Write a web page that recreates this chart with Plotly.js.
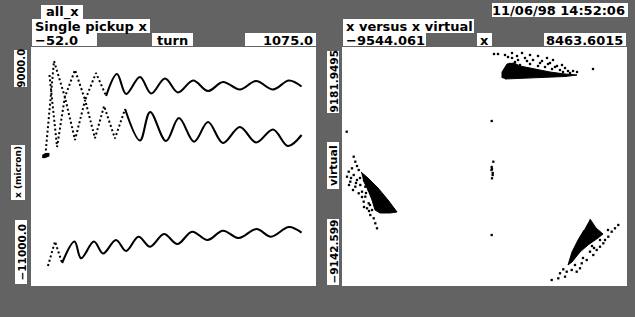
<!DOCTYPE html>
<html><head><meta charset="utf-8">
<script src="https://cdn.plot.ly/plotly-3.0.1.min.js"></script>
<style>html,body{margin:0;padding:0;background:#636363;overflow:hidden;}</style>
</head><body><div id="chart" style="width:635px;height:317px;"></div>
<script>
// ---------- Left panel: Single pickup x (turn vs x in micron) ----------
const turnRange = [-52.0, 1075.0];
const xMicronRange = [-11000.0, 9000.0];
const upperTurn = [5, 39, 82, 122, 162, 205, 245, 288, 324, 379, 423, 478, 529, 589, 648, 707, 774, 838, 905, 968, 1018];
const upperX    = [-37, 7828, 4816, 7075, 4565, 6824, 4900, 6741, 5067, 6490, 5109, 6364, 5193, 6197, 5318, 6071, 5444, 6155, 5444, 6197, 5695];
const middleTurn = [21, 51, 82, 122, 162, 201, 237, 280, 320, 379, 419, 482, 533, 593, 648, 707, 774, 838, 905, 964, 1018];
const middleX    = [6657, 632, 4816, 1218, 4565, 1360, 4063, 1343, 3812, 1176, 3561, 1134, 3059, 1075, 2724, 967, 2306, 1008, 2096, 716, 1636];
const lowerTurn = [15, 43, 71, 120, 146, 197, 233, 284, 324, 373, 419, 474, 527, 585, 646, 707, 770, 840, 897, 968, 1018];
const lowerX    = [-9326, -7276, -9075, -7276, -8682, -7276, -8280, -7150, -8071, -6874, -7711, -6649, -7485, -6456, -7150, -6372, -6983, -6230, -6874, -6063, -6540];
const blobTurn = [-1, 3, 7, 11, 14];
const blobX    = [-150, -110, -80, -40, -10];

// ---------- Right panel: x versus x virtual ----------
const xRange = [-9544.061, 8463.6015];
const virtualRange = [-9142.599, 9181.9495];
const topCoreX = [566, 566, 882, 1324, 1703, 2651, 3599, 4547, 5304, 4547, 3283, 2019, 755];
const topCoreY = [6805, 7265, 7879, 7955, 7725, 7495, 7265, 7112, 7035, 6920, 6844, 6767, 6729];
const topDotsX = [60, 313, 755, 1198, 1514, 1830, 2019, 2335, 2525, 2841, 3093, 3409, 3599, 3788, 4041, 4357, 4547, 4736, 5052, 5305, 6316, 2335, 2841, 3283, 3725, 4230, 1577, 2146, 2967, 3472, 3915, 4420, 4862, 1198, 945, 1387, 1071, 1703];
const topDotsY = [8645, 8645, 8569, 8722, 8492, 8722, 8339, 8569, 8185, 8492, 8109, 8339, 7955, 8185, 7725, 7802, 7572, 7342, 7342, 7265, 7495, 7879, 7725, 7649, 7495, 7419, 8185, 8109, 7955, 7879, 7649, 7265, 7188, 8339, 8415, 8032, 7879, 7802];
const leftCoreX = [-8343, -7901, -7269, -6637, -6069, -6511, -7143, -7459, -7649, -7901, -8217];
const leftCoreY = [-402, -862, -1628, -2549, -3469, -3545, -3545, -3315, -2549, -1782, -1015];
const leftDotsX = [-8805, -8704, -8596, -8912, -8489, -9121, -9228, -8805, -8596, -9020, -8704, -8388, -8280, -8489, -8072, -8173, -7857, -7964, -7648, -7756, -7541, -7440, -7333, -7857, -8072, -9102, -8407, -8659, -8280, -8028, -7775, -8154, -7838, -8849, -8975];
const leftDotsY = [771, 388, 58, -118, -248, -379, -762, -632, -1015, -1145, -1529, -1398, -1912, -2035, -2295, -2679, -2802, -3185, -3315, -3699, -3952, -4335, -4718, -1782, -1529, -1398, -862, -1245, -2319, -2012, -2932, -3085, -3392, -1782, -862];
const rightCoreX = [6126, 6505, 6947, 6631, 5999, 5494, 4989, 4736, 4989, 5368, 5747];
const rightCoreY = [-4005, -4695, -5155, -5462, -5999, -6535, -7302, -7532, -6535, -5615, -4849];
const rightDotsX = [7914, 7705, 7497, 7282, 7074, 6966, 7263, 6758, 6549, 6334, 6126, 5918, 5602, 5494, 5286, 4970, 4654, 4439, 4230, 4547, 4123, 3706, 6379, 6758, 5684, 5178, 6252];
const rightDotsY = [-4465, -4718, -4979, -5362, -5615, -5868, -4849, -6129, -6382, -6765, -6512, -7149, -7402, -7785, -8046, -7915, -8046, -7862, -8168, -8429, -8552, -8682, -6229, -5615, -6996, -7532, -6075];
const strayX = [-9247, -85, 16, -85, -67, -98, -23, -23, -67, -85];
const strayY = [2688, 3508, 388, -18, -172, -248, -478, -632, -885, -5232];

// ---------- Labels ----------
const labelLeft = {title1: "all_x", title2: "Single pickup x", xmin: "\u221252.0", xname: "turn", xmax: "1075.0", ymax: "9000.0", yname: "x (micron)", ymin: "\u221211000.0"};
const labelRight = {stamp: "11/06/98 14:52:06", title2: "x versus x virtual", xmin: "\u22129544.061", xname: "x", xmax: "8463.6015", ymax: "9181.9495", yname: "virtual", ymin: "\u22129142.599"};

const W = 635, H = 317;
const fx = v => v / W, fy = v => 1 - v / H;
const K = '#000000';

function lineTrace(x, y, opts) {
  return Object.assign({x, y, type: 'scatter', mode: 'lines', hoverinfo: 'skip', showlegend: false,
    line: {color: K, width: 2.1, shape: 'spline', smoothing: 1}}, opts);
}
const dotLine = {color: K, width: 2, dash: '2px,2.5px'};

const traces = [
  lineTrace(upperTurn.slice(0, 7), upperX.slice(0, 7), {line: dotLine}),
  lineTrace(upperTurn.slice(6), upperX.slice(6), {}),
  lineTrace(middleTurn.slice(0, 9), middleX.slice(0, 9), {line: dotLine}),
  lineTrace(middleTurn.slice(8), middleX.slice(8), {}),
  lineTrace(lowerTurn.slice(0, 3), lowerX.slice(0, 3), {line: dotLine}),
  lineTrace(lowerTurn.slice(2), lowerX.slice(2), {}),
  {x: blobTurn, y: blobX, type: 'scatter', mode: 'markers', hoverinfo: 'skip', showlegend: false,
   marker: {color: K, size: 3.5, symbol: 'square'}},
];
function core(x, y) {
  return {x, y, xaxis: 'x2', yaxis: 'y2', type: 'scatter', mode: 'lines', fill: 'toself', fillcolor: K,
    line: {color: K, width: 1}, hoverinfo: 'skip', showlegend: false};
}
function dots(x, y) {
  return {x, y, xaxis: 'x2', yaxis: 'y2', type: 'scatter', mode: 'markers', hoverinfo: 'skip', showlegend: false,
    marker: {color: K, size: 2.3, symbol: 'square', line: {width: 0}}};
}
traces.push(core(topCoreX, topCoreY), core(leftCoreX, leftCoreY), core(rightCoreX, rightCoreY),
  dots(topDotsX, topDotsY), dots(leftDotsX, leftDotsY), dots(rightDotsX, rightDotsY), dots(strayX, strayY));

const hFont = {family: 'DejaVu Sans', size: 13, color: '#000', weight: 'bold'};
const shapes = [], annotations = [];
function hbox(text, l, t, r, b, align) {
  shapes.push({type: 'rect', xref: 'paper', yref: 'paper', x0: fx(l), x1: fx(r), y0: fy(b), y1: fy(t),
    fillcolor: '#ffffff', line: {width: 0}, layer: 'above'});
  let x, xa;
  if (align === 'left') { x = fx(l + 2); xa = 'left'; }
  else if (align === 'right') { x = fx(r - 2); xa = 'right'; }
  else { x = fx((l + r) / 2); xa = 'center'; }
  annotations.push({text, xref: 'paper', yref: 'paper', x, y: fy((t + b) / 2 + 0.5), xanchor: xa, yanchor: 'middle',
    showarrow: false, font: hFont, borderpad: 0});
}
function vbox(text, l, t, r, b, size) {
  shapes.push({type: 'rect', xref: 'paper', yref: 'paper', x0: fx(l), x1: fx(r), y0: fy(b), y1: fy(t),
    fillcolor: '#ffffff', line: {width: 0}, layer: 'above'});
  annotations.push({text, xref: 'paper', yref: 'paper', x: fx((l + r) / 2 + 0.5), y: fy((t + b) / 2), xanchor: 'center', yanchor: 'middle',
    textangle: -90, showarrow: false, font: {family: 'DejaVu Sans', size, color: '#000', weight: 'bold'}, borderpad: 0});
}
hbox(labelLeft.title1, 41, 5, 83, 19, 'center');
hbox(labelLeft.title2, 32, 19, 150, 33, 'left');
hbox(labelLeft.xmin, 32, 33, 97, 46, 'left');
hbox(labelLeft.xname, 152, 33, 193, 46, 'center');
hbox(labelLeft.xmax, 245, 33, 316, 46, 'right');
hbox(labelRight.stamp, 492, 3, 628, 17, 'right');
hbox(labelRight.title2, 343, 19, 474, 33, 'left');
hbox(labelRight.xmin, 343, 33, 426, 46, 'left');
hbox(labelRight.xname, 477, 33, 492, 46, 'center');
hbox(labelRight.xmax, 544, 33, 626, 46, 'right');
vbox(labelLeft.ymax, 14, 50, 27, 87, 10);
vbox(labelLeft.yname, 11, 145, 25, 200, 9);
vbox(labelLeft.ymin, 15, 220, 27, 284, 10.5);
vbox(labelRight.ymax, 327, 51, 339, 113, 10.5);
vbox(labelRight.yname, 327, 142, 339, 189, 11);
vbox(labelRight.ymin, 327, 219, 339, 285, 10.5);

const ax = {showgrid: false, zeroline: false, showline: false, ticks: '', showticklabels: false, fixedrange: true};
const layout = {
  width: W, height: H, margin: {l: 0, r: 0, t: 0, b: 0},
  paper_bgcolor: '#636363', plot_bgcolor: '#ffffff', showlegend: false, hovermode: false,
  xaxis: Object.assign({domain: [fx(31), fx(316)], range: turnRange, anchor: 'y'}, ax),
  yaxis: Object.assign({domain: [fy(286), fy(47)], range: xMicronRange, anchor: 'x'}, ax),
  xaxis2: Object.assign({domain: [fx(342), fx(627)], range: xRange, anchor: 'y2'}, ax),
  yaxis2: Object.assign({domain: [fy(286), fy(47)], range: virtualRange, anchor: 'x2'}, ax),
  shapes, annotations
};
Plotly.newPlot('chart', traces, layout, {staticPlot: true, displayModeBar: false});
</script></body></html>
